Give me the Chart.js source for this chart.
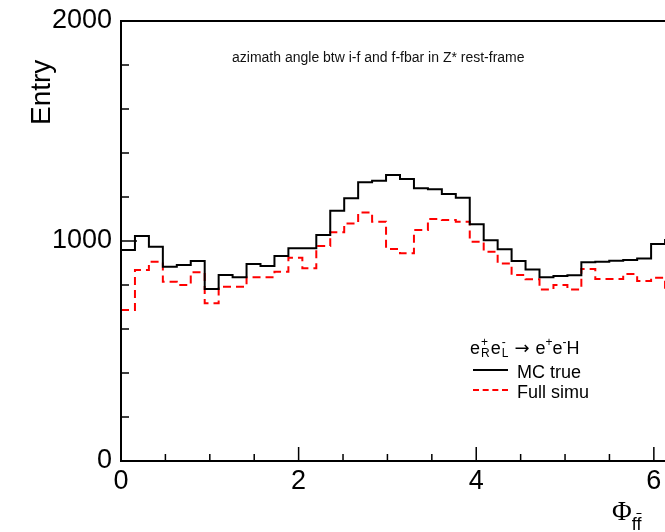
<!DOCTYPE html>
<html>
<head>
<meta charset="utf-8">
<script src="https://cdn.jsdelivr.net/npm/chart.js@4.4.1/dist/chart.umd.min.js"></script>
<style>
  html, body { margin:0; padding:0; overflow:hidden; background:#fff; }
  #wrap { position:relative; width:700px; height:532px; font-family:"Liberation Sans", Arial, sans-serif; color:#000; }
  canvas { position:absolute; left:0; top:0; }
  .t { position:absolute; white-space:nowrap; line-height:1; }
  .ss { display:inline-flex; flex-direction:column; vertical-align:middle; font-size:12px; line-height:11px; margin:0 1px; position:relative; top:-1px; }
  .sup1 { font-size:12px; position:relative; top:-8px; }
  .arr { font-family:"DejaVu Sans", sans-serif; font-size:18px; margin:0 6px 0 5px; }
</style>
</head>
<body>
<div id="wrap">
  <canvas id="c" width="700" height="532"></canvas>
  <div class="t" id="note" style="left:232px; top:50px; font-size:14px; color:#111;">azimath angle btw i-f and f-fbar in Z* rest-frame</div>
  <div class="t" id="ytitle" style="left:27px; top:125px; font-size:28px; transform-origin:0 0; transform:rotate(-90deg);">Entry</div>
  <div class="t" id="xtitle" style="left:612px; top:498px; font-size:27px;"><span style="font-family:'Liberation Serif', serif;">Φ</span><span style="font-size:18px; position:relative; top:10px;">f<span style="text-decoration:overline;">f</span></span></div>
  <div class="t" id="lhead" style="left:470px; top:338px; font-size:18px;">e<span class="ss"><span>+</span><span>R</span></span>e<span class="ss"><span>-</span><span>L</span></span><span class="arr">→</span>e<span class="sup1">+</span>e<span class="sup1">-</span>H</div>
  <div style="position:absolute; left:473px; top:369px; width:35px; height:0; border-top:2px solid #000;"></div>
  <div class="t" style="left:517px; top:363px; font-size:18px;">MC true</div>
  <div style="position:absolute; left:473px; top:389px; width:35px; height:0; border-top:2px dashed #ff0000;"></div>
  <div class="t" style="left:517px; top:383px; font-size:18px;">Full simu</div>
</div>
<script>
// Histogram definition
const nBins = 40;
const binLow = 0;
const binHigh = 2 * Math.PI;

// Series values (entries per bin)
const mcTrue = [959, 1023, 974, 883, 891, 909, 782, 845, 835, 895,
                886, 932, 967, 967, 1027, 1138, 1194, 1267, 1274, 1300,
                1282, 1240, 1235, 1214, 1197, 1076, 1003, 962, 909, 871,
                835, 841, 844, 903, 906, 910, 914, 921, 986, 1005];
const fullSimu = [686, 868, 906, 815, 800, 858, 717, 792, 792, 835,
                  835, 860, 924, 876, 977, 1040, 1080, 1130, 1088, 964,
                  944, 1050, 1100, 1095, 1088, 997, 951, 898, 845, 826,
                  780, 800, 780, 873, 827, 827, 850, 818, 833, 770];

// Tick values
const xMajorTicks = [0, 2, 4, 6];
const xMinorTicks = [0.5, 1, 1.5, 2.5, 3, 3.5, 4.5, 5, 5.5];
const yMajorTicks = [0, 1000, 2000];
const yMinorTicks = [200, 400, 600, 800, 1200, 1400, 1600, 1800];

function histPoints(vals) {
  const w = (binHigh - binLow) / nBins;
  const pts = vals.map((v, i) => ({ x: binLow + i * w, y: v }));
  pts.push({ x: binHigh, y: vals[vals.length - 1] });
  return pts;
}

const frameTicks = {
  id: 'frameTicks',
  afterDatasetsDraw(chart) {
    const ctx = chart.ctx, a = chart.chartArea;
    const xs = chart.scales.x, ys = chart.scales.y;
    ctx.save();
    ctx.strokeStyle = '#000';
    ctx.lineWidth = 2;
    ctx.strokeRect(a.left, a.top, a.right - a.left, a.bottom - a.top);
    ctx.lineWidth = 1.5;
    ctx.beginPath();
    yMajorTicks.forEach(v => { const p = ys.getPixelForValue(v); ctx.moveTo(a.left, p); ctx.lineTo(a.left + 16, p); });
    yMinorTicks.forEach(v => { const p = ys.getPixelForValue(v); ctx.moveTo(a.left, p); ctx.lineTo(a.left + 8, p); });
    xMajorTicks.forEach(v => { const p = xs.getPixelForValue(v); ctx.moveTo(p, a.bottom); ctx.lineTo(p, a.bottom - 14); });
    xMinorTicks.forEach(v => { const p = xs.getPixelForValue(v); ctx.moveTo(p, a.bottom); ctx.lineTo(p, a.bottom - 7); });
    ctx.stroke();
    ctx.restore();
  }
};

new Chart(document.getElementById('c'), {
  type: 'line',
  data: {
    datasets: [
      { label: 'MC true', data: histPoints(mcTrue), stepped: true, borderColor: '#000', borderWidth: 2, pointRadius: 0, fill: false },
      { label: 'Full simu', data: histPoints(fullSimu), stepped: true, borderColor: '#ff0000', borderWidth: 2, borderDash: [8, 5], pointRadius: 0, fill: false }
    ]
  },
  options: {
    responsive: false,
    animation: false,
    devicePixelRatio: 1,
    layout: { padding: { top: 21, right: 21, left: 0, bottom: 0 } },
    plugins: { legend: { display: false }, tooltip: { enabled: false } },
    scales: {
      x: {
        type: 'linear', min: binLow, max: binHigh,
        grid: { display: false, drawTicks: false },
        border: { display: false },
        afterFit: s => { s.height = 71; s.paddingLeft = 0; s.paddingRight = 0; },
        ticks: { stepSize: 2, includeBounds: false, padding: 4, color: '#000', maxRotation: 0,
                 font: { family: 'Liberation Sans', size: 27 },
                 callback: v => xMajorTicks.includes(v) ? String(v) : '' }
      },
      y: {
        min: 0, max: 2000,
        grid: { display: false, drawTicks: false },
        border: { display: false },
        afterFit: s => { s.width = 121; s.paddingTop = 0; s.paddingBottom = 0; },
        ticks: { stepSize: 1000, padding: 9, color: '#000',
                 font: { family: 'Liberation Sans', size: 27 },
                 callback: v => yMajorTicks.includes(v) ? String(v) : '' }
      }
    }
  },
  plugins: [frameTicks]
});
</script>
</body>
</html>
